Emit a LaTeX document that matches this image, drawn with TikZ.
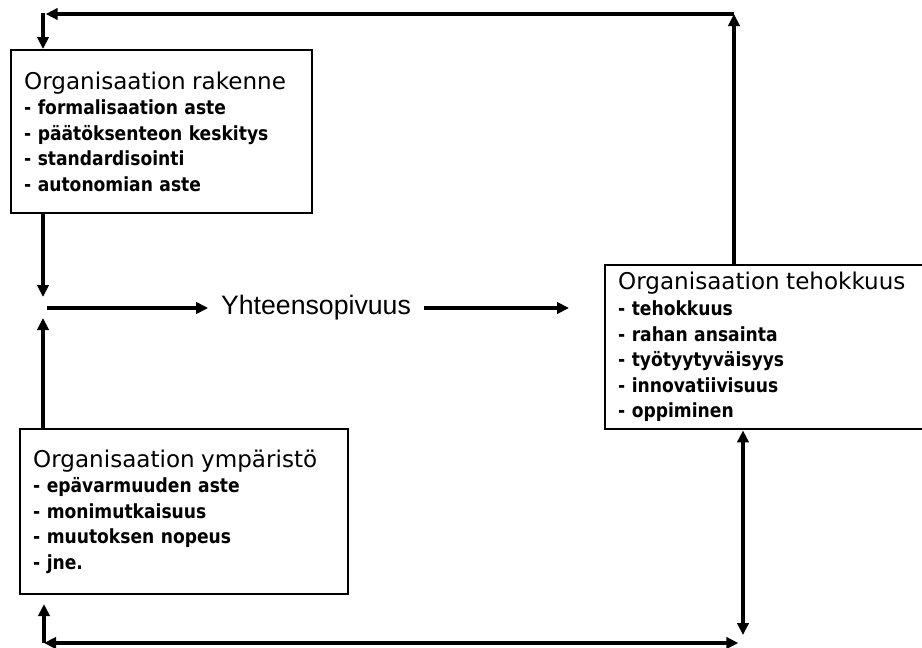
\documentclass[tikz,border=0pt]{standalone}
\usepackage{fontspec}
\setmainfont{DejaVu Sans}
\newfontfamily\itemf[FakeStretch=0.88]{DejaVu Sans}
\newfontfamily\arialf{Liberation Sans}
\usetikzlibrary{arrows.meta}
\newcommand{\ttlf}{\rmfamily\fontsize{17.3}{19.2}\selectfont\mdseries}
\begin{document}
\begin{tikzpicture}[x=0.75pt,y=-0.75pt,
  tip/.tip={Triangle[length=9pt,width=8.5pt]},
  conn/.style={line width=2.6pt,-tip},
  connboth/.style={line width=2.6pt,tip-tip},
  box/.style={draw,line width=1.8pt,anchor=north west,align=left,
    inner xsep=9.75pt,inner ysep=0pt,
    font=\itemf\fontsize{14.6}{19.2}\selectfont\bfseries}]
\fill[white] (0,0) rectangle (922,647);
\clip (0,0) rectangle (922,647);
\useasboundingbox (0,0) rectangle (922,647);

\node[box,minimum width=225.75pt,minimum height=122.25pt,text width=206.25pt] (b1) at (10,49)
 {{\ttlf Organisaation rakenne}\\- formalisaation aste\\- päätöksenteon keskitys\\- standardisointi\\- autonomian aste};
\node[box,minimum width=246pt,minimum height=123.75pt,text width=226.5pt] (b2) at (19,428)
 {{\ttlf Organisaation ympäristö}\\- epävarmuuden aste\\- monimutkaisuus\\- muutoksen nopeus\\- jne.};
\node[box,minimum width=244pt,minimum height=123pt,text width=224.5pt] (b3) at (604,264)
 {{\ttlf Organisaation tehokkuus}\\- tehokkuus\\- rahan ansainta\\- työtyytyväisyys\\- innovatiivisuus\\- oppiminen};

\node[font=\arialf\fontsize{20}{24}\selectfont,inner xsep=9.5pt,inner ysep=0pt] (yh) at (316,308) {Yhteensopivuus};

\coordinate (tr) at (734,14);
\coordinate (tl) at (43,14);
\coordinate (jn) at (43,308);
\coordinate (ya) at (569,308);
\coordinate (bl) at (44,643);
\coordinate (br) at (743,643);

% top feedback loop
\draw[conn] (b3.north -| tr) -- (tr);
\draw[conn,shorten >=-1pt] (tr) -- ([xshift=3pt]tl);
\draw[conn] ([yshift=1pt]tl) -- (tl |- b1.north);

% into junction
\draw[conn,shorten >=8.25pt] (b1.south -| jn) -- (jn);
\draw[conn,shorten >=7.5pt] (b2.north -| jn) -- (jn);
\draw[conn] ([xshift=3pt]jn) -- (yh.west);
\draw[conn] (yh.east) -- (ya);

% bottom loop
\draw[conn,shorten >=6.5pt] (bl) -- (bl |- b2.south);
\draw[connboth,shorten >=3.5pt] (bl) -- (br);
\draw[connboth,shorten >=6pt] (b3.south -| br) -- (br);
\end{tikzpicture}
\end{document}
